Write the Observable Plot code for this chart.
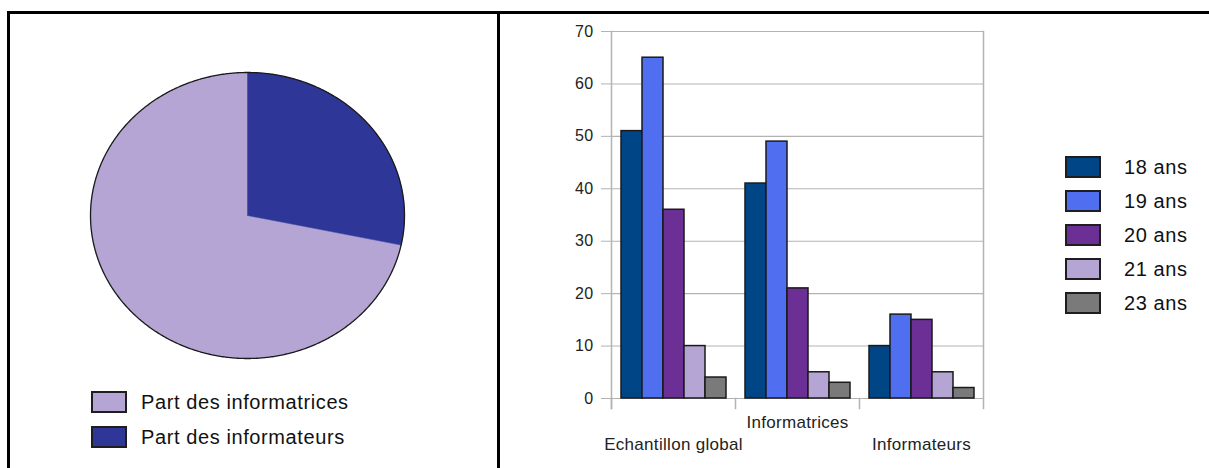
<!DOCTYPE html>
<html><head><meta charset="utf-8">
<script src="https://cdn.jsdelivr.net/npm/d3@7"></script>
<script src="https://cdn.jsdelivr.net/npm/@observablehq/plot@0.6"></script>
<style>
body{margin:0;background:#fff;}
#wrap{position:relative;width:1209px;height:468px;overflow:hidden;font-family:"Liberation Sans",Arial,sans-serif;background:#fff;}
.abs{position:absolute;}
.leg{position:absolute;display:flex;align-items:center;height:22px;font-size:20px;letter-spacing:0.6px;color:#111;white-space:nowrap;}
.sw{box-sizing:border-box;width:36px;height:22px;border:2px solid #1e1e1e;}
.bars text{letter-spacing:0.3px;}
</style></head>
<body><div id="wrap"></div>
<script>
// ---- data ----
const pieLabels = ["Part des informatrices", "Part des informateurs"];
const pieValues = [119, 47];
const pieColors = ["#b4a5d4", "#2e3797"];

const categories = ["Echantillon global", "Informatrices", "Informateurs"];
const ages = ["18 ans", "19 ans", "20 ans", "21 ans", "23 ans"];
const echantillonGlobal = [51, 65, 36, 10, 4];
const informatrices = [41, 49, 21, 5, 3];
const informateurs = [10, 16, 15, 5, 2];
const ageColors = ["#004586", "#4f6ef0", "#6b2f96", "#b4a5d4", "#7a7a7a"];
const yTicks = [0, 10, 20, 30, 40, 50, 60, 70];
const upperLabels = [categories[1]];

const wrap = document.getElementById("wrap");

// ---- pie ----
const arcs = d3.pie().sort(null).startAngle(0).endAngle(-2 * Math.PI)(pieValues);
function arcPoints(a0, a1, withCenter) {
  const pts = withCenter ? [{x: 0, y: 0}] : [];
  const n = Math.max(2, Math.ceil(Math.abs(a1 - a0) / (Math.PI / 360)));
  for (let i = 0; i <= n; i++) {
    const t = a0 + (a1 - a0) * i / n;
    pts.push({x: Math.sin(t), y: Math.cos(t)});
  }
  if (withCenter) pts.push({x: 0, y: 0});
  return pts;
}
const pie = Plot.plot({
  width: 500, height: 468,
  marginLeft: 90, marginRight: 96, marginTop: 72, marginBottom: 110,
  x: {domain: [-1, 1], axis: null},
  y: {domain: [-1, 1], axis: null},
  style: {background: "transparent"},
  marks: [
    ...arcs.map((a, i) => Plot.line(arcPoints(a.startAngle, a.endAngle, true), {x: "x", y: "y", fill: pieColors[i], stroke: pieColors[i], strokeWidth: 0.5})),
    Plot.line(arcPoints(0, 2 * Math.PI, false), {x: "x", y: "y", stroke: "#1a1a1a", strokeWidth: 1.3})
  ]
});
pie.classList.add("abs");
pie.style.left = "0px"; pie.style.top = "0px";
wrap.appendChild(pie);

// ---- bars ----
const series = [echantillonGlobal, informatrices, informateurs];
const rows = [];
categories.forEach((c, ci) => ages.forEach((a, ai) => rows.push({cat: c, age: a, value: series[ci][ai]})));
const W = 709, H = 468, mL = 111, mR = 226, mT = 31, mB = 70;
const innerH = H - mT - mB;
const gray = "#b3b3b3";
const bars = Plot.plot({
  width: W, height: H,
  marginLeft: mL, marginRight: mR, marginTop: mT, marginBottom: mB,
  fx: {domain: categories, padding: 0},
  x: {domain: ages, paddingInner: 0, paddingOuter: 0.45, axis: null},
  y: {domain: [0, 70]},
  color: {domain: ages, range: ageColors},
  style: {background: "transparent", fontFamily: "'Liberation Sans', Arial, sans-serif"},
  marks: [
    Plot.gridY(yTicks, {stroke: gray, strokeOpacity: 1, strokeWidth: 1.1}),
    Plot.frame({anchor: "left", facetAnchor: "left", stroke: gray, strokeWidth: 1.5, insetBottom: -10}),
    Plot.frame({anchor: "right", facetAnchor: "right", stroke: gray, strokeWidth: 1.5, insetBottom: -10}),
    Plot.frame({anchor: "left", stroke: gray, strokeWidth: 1.5, insetTop: innerH, insetBottom: -10}),
    Plot.barY(rows, {fx: "cat", x: "age", y: "value", fill: "age", stroke: "#1a1a1a", strokeWidth: 1.5}),
    Plot.axisY(yTicks, {tickSize: 10, tickPadding: 8, stroke: gray, fill: "#222", fontSize: 16, label: null}),
    Plot.axisFx({anchor: "bottom", tickSize: 0, tickPadding: 17, fontSize: 17, fill: "#222", label: null,
      tickFormat: (d) => upperLabels.includes(d) ? d : ""}),
    Plot.axisFx({anchor: "bottom", tickSize: 0, tickPadding: 39, fontSize: 17, fill: "#222", label: null,
      tickFormat: (d) => upperLabels.includes(d) ? "" : d})
  ]
});
bars.classList.add("abs", "bars");
bars.style.left = "500px"; bars.style.top = "0px";
wrap.appendChild(bars);

// ---- borders ----
function box(l, t, w, h) {
  const d = document.createElement("div");
  d.className = "abs";
  Object.assign(d.style, {left: l + "px", top: t + "px", width: w + "px", height: h + "px", background: "#000"});
  wrap.appendChild(d);
}
box(7, 11, 1202, 3);
box(7, 11, 2.5, 470);
box(497, 11, 3, 470);

// ---- legends ----
function legend(items, colors, left, tops, textLeft) {
  items.forEach((t, i) => {
    const row = document.createElement("div");
    row.className = "leg";
    row.style.left = left + "px"; row.style.top = tops[i] + "px";
    const sw = document.createElement("div");
    sw.className = "sw"; sw.style.background = colors[i];
    sw.style.marginRight = (textLeft - left - 36) + "px";
    const tx = document.createElement("span"); tx.textContent = t;
    row.appendChild(sw); row.appendChild(tx);
    wrap.appendChild(row);
  });
}
legend(pieLabels, pieColors, 91, [391, 426], 141);
legend(ages, ageColors, 1065, [156, 190, 224, 258, 292], 1124);
</script>
</body></html>
